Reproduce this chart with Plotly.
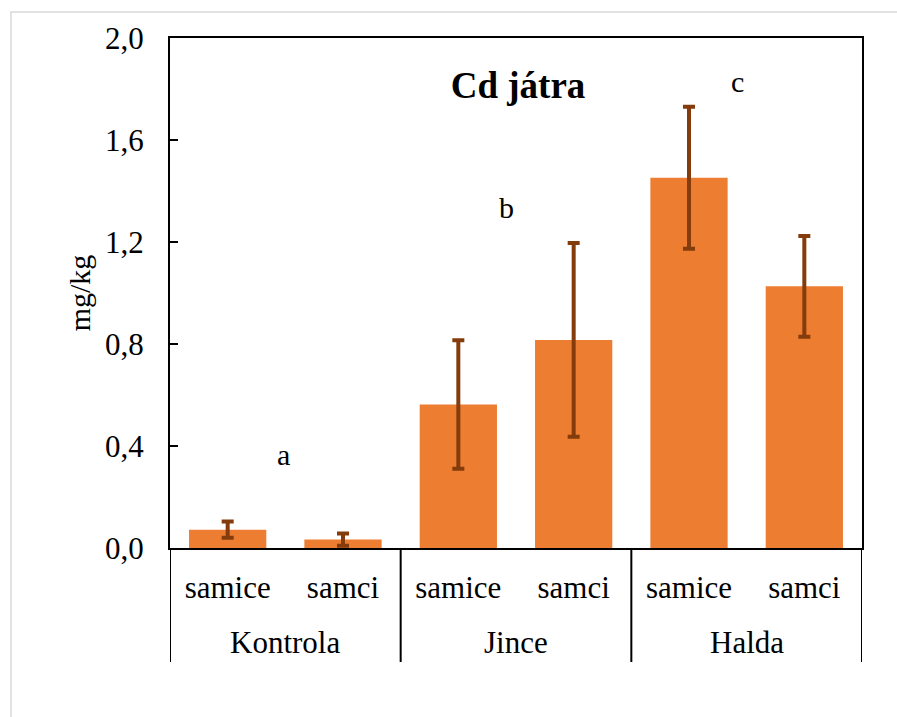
import plotly.graph_objects as go

# Cd in liver (mg/kg): mean and spread per site and sex
sites = ["Kontrola", "Kontrola", "Jince", "Jince", "Halda", "Halda"]
sexes = ["samice", "samci", "samice", "samci", "samice", "samci"]
cd_mean = [0.072, 0.033, 0.563, 0.816, 1.452, 1.026]
cd_err = [0.032, 0.024, 0.252, 0.380, 0.278, 0.198]

# significance groups shown above each site
sig_letters = ["a", "b", "c"]
sig_x = [0.48, 2.42, 4.42]
sig_y = [0.368, 1.337, 1.828]

y_ticks = [0.0, 0.4, 0.8, 1.2, 1.6, 2.0]
y_ticktext = [f"{v:.1f}".replace(".", ",") for v in y_ticks]

FONT = "Liberation Serif"
BAR = "#ED7D31"
ERR = "#843C0C"

# one category per bar, labelled with the sex; sites are labelled underneath
cats = [f"{s} | {x}" for s, x in zip(sites, sexes)]

fig = go.Figure(
    go.Bar(
        x=cats,
        y=cd_mean,
        width=0.67,
        marker=dict(color=BAR, line=dict(width=0)),
        error_y=dict(type="data", array=cd_err, visible=True,
                     color=ERR, thickness=4, width=6),
    )
)

for letter, lx, ly in zip(sig_letters, sig_x, sig_y):
    fig.add_annotation(x=lx, y=ly, xref="x", yref="y", text=letter,
                       showarrow=False, font=dict(family=FONT, size=30, color="black"))

# site labels and the dividers between site groups
groups = []
for i, s in enumerate(sites):
    if not groups or groups[-1][0] != s:
        groups.append([s, i, i])
    else:
        groups[-1][2] = i

for name, first, last in groups:
    fig.add_annotation(x=(first + last) / 2, y=-0.186, xref="x", yref="paper",
                       text=name, showarrow=False, yanchor="middle",
                       font=dict(family=FONT, size=31, color="black"))

edges = [groups[0][1] - 0.5] + [g[2] + 0.5 for g in groups]
for e in edges:
    fig.add_shape(type="line", xref="x", yref="paper", x0=e, x1=e, y0=0, y1=-0.2235,
                  line=dict(color="black", width=2))

# light frame around the whole chart area
fig.add_shape(type="rect", xref="paper", yref="paper",
              x0=-0.2298, x1=1.5, y0=-1.0, y1=1.051,
              line=dict(color="#D9D9D9", width=1.5), fillcolor="rgba(0,0,0,0)",
              layer="below")

fig.update_layout(
    width=897, height=717,
    margin=dict(l=170, r=35, t=38, b=169),
    paper_bgcolor="white", plot_bgcolor="white",
    showlegend=False,
    font=dict(family=FONT, size=31, color="black"),
    title=dict(text="<b>Cd játra</b>", x=0.503, y=0.908, xref="paper", yref="paper",
               xanchor="center", yanchor="middle",
               font=dict(family=FONT, size=37, color="black")),
)

fig.update_yaxes(
    range=[0, 2.0], tickvals=y_ticks, ticktext=y_ticktext,
    showgrid=False, zeroline=False,
    showline=True, linecolor="black", linewidth=2, mirror=True,
    ticks="inside", ticklen=8, tickwidth=2, tickcolor="black",
    ticklabelstandoff=18,
    tickfont=dict(family=FONT, size=31),
    title=dict(text="mg/kg", font=dict(family=FONT, size=30), standoff=6),
)

fig.update_xaxes(
    type="category", range=[-0.5, len(cats) - 0.5],
    tickvals=cats, ticktext=sexes,
    showgrid=False, zeroline=False,
    showline=True, linecolor="black", linewidth=2, mirror=True,
    ticks="", ticklabelstandoff=11,
    tickfont=dict(family=FONT, size=31),
)

fig.write_html("out.html")
